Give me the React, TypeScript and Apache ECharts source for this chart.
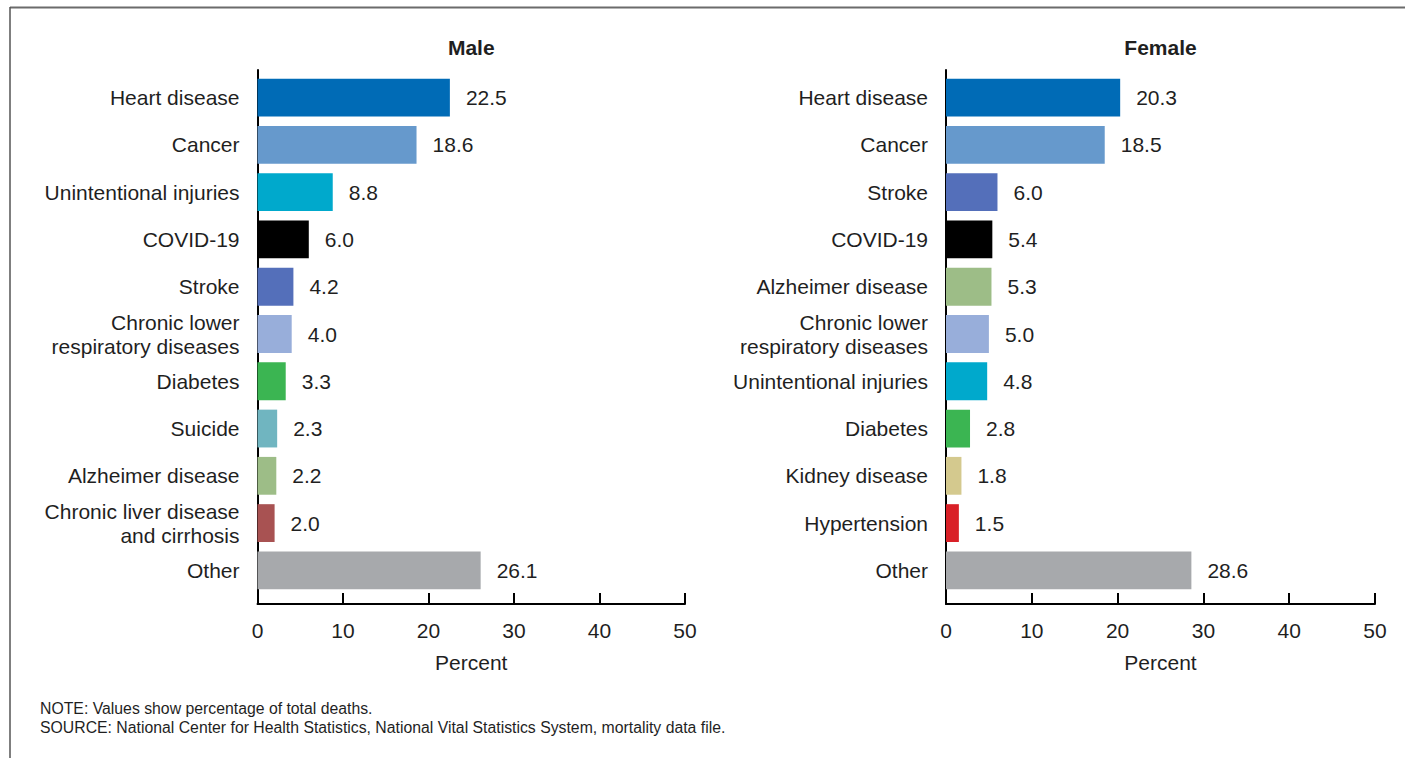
import React, { useEffect, useRef } from "react";
import * as echarts from "echarts";

const maleCauses = [
  "Heart disease",
  "Cancer",
  "Unintentional injuries",
  "COVID-19",
  "Stroke",
  "Chronic lower\nrespiratory diseases",
  "Diabetes",
  "Suicide",
  "Alzheimer disease",
  "Chronic liver disease\nand cirrhosis",
  "Other",
];
const maleValues = [22.5, 18.6, 8.8, 6.0, 4.2, 4.0, 3.3, 2.3, 2.2, 2.0, 26.1];

const femaleCauses = [
  "Heart disease",
  "Cancer",
  "Stroke",
  "COVID-19",
  "Alzheimer disease",
  "Chronic lower\nrespiratory diseases",
  "Unintentional injuries",
  "Diabetes",
  "Kidney disease",
  "Hypertension",
  "Other",
];
const femaleValues = [20.3, 18.5, 6.0, 5.4, 5.3, 5.0, 4.8, 2.8, 1.8, 1.5, 28.6];

const percentMin = 0;
const percentMax = 50;
const percentStep = 10;

const panelTitles = ["Male", "Female"];
const axisName = "Percent";
const noteLines = [
  "NOTE: Values show percentage of total deaths.",
  "SOURCE: National Center for Health Statistics, National Vital Statistics System, mortality data file.",
];

const causeColors: Record<string, string> = {
  "Heart disease": "#006BB6",
  Cancer: "#6699CC",
  "Unintentional injuries": "#00A9CC",
  "COVID-19": "#000000",
  Stroke: "#546FBA",
  "Chronic lower\nrespiratory diseases": "#98AEDA",
  Diabetes: "#3BB552",
  Suicide: "#70B5C0",
  "Alzheimer disease": "#9DBD87",
  "Chronic liver disease\nand cirrhosis": "#A85252",
  "Kidney disease": "#D4C98E",
  Hypertension: "#D92027",
  Other: "#A7A9AC",
};

const FONT = "Liberation Sans, Arial, Helvetica, sans-serif";
const TEXT = "#1f1f1f";

export default function App() {
  const ref = useRef<HTMLDivElement>(null);

  useEffect(() => {
    if (!ref.current) return;
    const chart = echarts.init(ref.current, undefined, { renderer: "svg" });

    const panels = [
      { title: panelTitles[0], left: 257.5, width: 427.5, causes: maleCauses, values: maleValues },
      { title: panelTitles[1], left: 946, width: 429, causes: femaleCauses, values: femaleValues },
    ];
    const gridTop = 74;
    const gridHeight = 520;

    const grids: any[] = [];
    const xAxes: any[] = [];
    const yAxes: any[] = [];
    const series: any[] = [];
    const graphics: any[] = [];

    panels.forEach((p, i) => {
      grids.push({ left: p.left, width: p.width, top: gridTop, height: gridHeight, containLabel: false });
      xAxes.push({
        type: "value",
        gridIndex: i * 2,
        min: percentMin,
        max: percentMax,
        interval: percentStep,
        offset: 10,
        axisLine: { show: true, lineStyle: { color: "#000", width: 2 } },
        axisTick: { show: true, inside: true, length: 11, lineStyle: { color: "#000", width: 2 } },
        axisLabel: { show: true, margin: 16, fontSize: 21, color: TEXT, fontFamily: FONT },
        splitLine: { show: false },
        name: axisName,
        nameLocation: "middle",
        nameGap: 48,
        nameTextStyle: { fontSize: 21, color: TEXT, fontFamily: FONT },
      });
      yAxes.push({
        type: "category",
        gridIndex: i * 2,
        inverse: true,
        data: p.causes,
        axisLine: { show: false },
        axisTick: { show: false },
        axisLabel: {
          show: true,
          margin: 18,
          fontSize: 21,
          lineHeight: 24,
          color: TEXT,
          fontFamily: FONT,
          align: "right",
        },
      });
      series.push({
        type: "bar",
        xAxisIndex: i * 2,
        yAxisIndex: i * 2,
        barWidth: "80%",
        data: p.values.map((v, k) => ({ value: v, itemStyle: { color: causeColors[p.causes[k]] } })),
        label: {
          show: true,
          position: "right",
          distance: 16,
          fontSize: 21,
          color: TEXT,
          fontFamily: FONT,
          formatter: (d: any) => Number(d.value).toFixed(1),
        },
      });
      grids.push({ left: p.left, width: p.width, top: 70, height: 534 });
      xAxes.push({ type: "value", gridIndex: i * 2 + 1, min: 0, max: 1, show: false });
      yAxes.push({
        type: "value",
        gridIndex: i * 2 + 1,
        min: 0,
        max: 1,
        axisLine: { show: true, lineStyle: { color: "#000", width: 2 } },
        axisTick: { show: false },
        axisLabel: { show: false },
        splitLine: { show: false },
      });
      graphics.push({
        type: "text",
        x: p.left + p.width / 2,
        y: 47,
        style: {
          text: p.title,
          fontSize: 21,
          fontWeight: "bold",
          fill: TEXT,
          fontFamily: FONT,
          textAlign: "center",
          textVerticalAlign: "middle",
        },
      });
    });

    noteLines.forEach((t, i) => {
      graphics.push({
        type: "text",
        x: 40,
        y: 708 + i * 19.5,
        style: {
          text: t,
          fontSize: 15.8,
          fill: TEXT,
          fontFamily: FONT,
          textAlign: "left",
          textVerticalAlign: "middle",
        },
      });
    });

    graphics.push({
      type: "line",
      shape: { x1: 10, y1: 7.5, x2: 1405, y2: 7.5 },
      style: { stroke: "#6b6b6b", lineWidth: 2 },
    });
    graphics.push({
      type: "line",
      shape: { x1: 10, y1: 7, x2: 10, y2: 758 },
      style: { stroke: "#555", lineWidth: 1.5 },
    });

    chart.setOption({
      animation: false,
      backgroundColor: "#ffffff",
      grid: grids,
      xAxis: xAxes,
      yAxis: yAxes,
      series,
      graphic: graphics,
    });

    return () => chart.dispose();
  }, []);

  return (
    <div
      ref={ref}
      style={{ position: "fixed", left: 0, top: 0, width: 1405, height: 758 }}
    />
  );
}
